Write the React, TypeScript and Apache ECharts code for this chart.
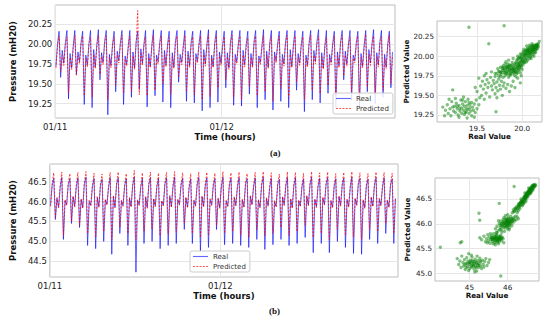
import React, { useEffect, useRef } from "react";
import * as echarts from "echarts";

// ---------- time axis ----------
const timeTicks = [0, 24];
const timeTickLabels = ["01/11", "01/12"];
const T0 = 0.1; // hours, first sample
const DT = 0.2268; // hours between samples

// ---------- panel (a) per-cycle readings (43 cycles) ----------
const aRealDip = [19.72,19.76,19.70,19.78,19.74,19.71,19.77,19.73,19.79,19.75,19.70,19.76,19.72,19.78,19.74,19.71,19.77,19.73,19.79,19.75,19.72,19.76,19.70,19.78,19.74,19.73,19.77,19.71,19.79,19.75,19.72,19.76,19.74,19.78,19.70,19.77,19.73,19.75,19.79,19.72,19.76,19.74,19.71];
const aRealRise = [20.00,20.02,19.98,20.03,20.01,19.99,20.04,20.00,20.02,19.98,20.03,20.01,19.99,20.02,20.00,20.04,19.98,20.03,20.01,20.00,20.02,19.99,20.03,20.01,20.00,20.04,19.98,20.02,20.01,20.03,19.99,20.00,20.02,20.04,19.98,20.01,20.03,20.00,20.02,19.99,20.01,20.03,20.00];
const aRealPeak = [20.16,20.17,20.17,20.16,20.17,20.18,20.17,20.16,20.17,20.17,20.16,20.17,20.18,20.17,20.16,20.17,20.17,20.16,20.17,20.18,20.17,20.16,20.17,20.17,20.16,20.17,20.18,20.17,20.16,20.17,20.17,20.16,20.17,20.18,20.17,20.16,20.17,20.17,20.16,20.17,20.18,20.17,20.16];
const aRealMin = [19.58,19.31,19.62,19.24,19.20,19.55,19.11,19.40,19.24,19.33,19.43,19.21,19.35,19.27,19.20,19.52,19.28,19.26,19.16,19.20,19.27,19.45,19.23,19.22,19.37,19.20,19.30,19.17,19.28,19.20,19.42,19.15,19.30,19.26,19.38,19.20,19.55,19.29,19.19,19.40,19.25,19.33,19.45];
const aRealReb = [19.92,19.88,19.90,19.86,19.93,19.89,19.87,19.91,19.85,19.90,19.94,19.88,19.86,19.92,19.89,19.87,19.91,19.88,19.93,19.86,19.90,19.89,19.87,19.92,19.88,19.85,19.91,19.90,19.87,19.93,19.88,19.86,19.92,19.89,19.87,19.90,19.91,19.86,19.88,19.93,19.89,19.87,19.90];

const aPredDip = [19.70,19.73,19.68,19.75,19.71,19.69,19.74,19.70,19.76,19.72,19.68,19.73,19.70,19.75,19.71,19.69,19.74,19.70,19.76,19.72,19.70,19.73,19.68,19.75,19.71,19.70,19.74,19.69,19.76,19.72,19.70,19.73,19.71,19.75,19.68,19.74,19.70,19.72,19.76,19.70,19.73,19.71,19.69];
const aPredRise = [19.97,19.99,19.95,20.00,19.98,19.96,20.00,19.97,19.99,19.95,19.99,19.98,19.96,19.99,19.97,20.00,19.95,19.99,19.98,19.97,19.99,19.96,20.00,19.98,19.97,20.00,19.95,19.99,19.98,20.00,19.96,19.97,19.99,20.00,19.95,19.98,20.00,19.97,19.99,19.96,19.98,20.00,19.97];
const aPredPeak = [20.10,20.09,20.11,20.10,20.08,20.11,20.10,20.09,20.11,20.10,20.42,20.09,20.11,20.10,20.08,20.10,20.11,20.09,20.10,20.12,20.10,20.09,20.11,20.10,20.08,20.10,20.11,20.09,20.10,20.11,20.10,20.09,20.11,20.10,20.08,20.10,20.11,20.09,20.10,20.12,20.10,20.09,20.11];
const aPredMin = [19.65,19.38,19.60,19.35,19.33,19.62,19.30,19.48,19.38,19.40,19.36,19.35,19.42,19.50,19.37,19.58,19.40,19.36,19.30,19.34,19.45,19.55,19.33,19.30,19.47,19.35,19.40,19.28,19.44,19.32,19.52,19.30,19.42,19.38,19.48,19.34,19.60,19.40,19.28,19.46,19.36,19.42,19.50];
const aPredReb = [19.86,19.83,19.85,19.82,19.87,19.84,19.83,19.86,19.81,19.85,19.88,19.83,19.82,19.86,19.84,19.82,19.86,19.83,19.87,19.82,19.85,19.84,19.82,19.86,19.83,19.81,19.86,19.85,19.82,19.87,19.83,19.82,19.86,19.84,19.82,19.85,19.86,19.82,19.83,19.87,19.84,19.82,19.85];

// ---------- panel (b) per-cycle readings (43 cycles) ----------
const bRealDip = [45.90,45.86,45.92,45.88,45.85,45.91,45.87,45.93,45.86,45.90,45.88,45.92,45.85,45.89,45.91,45.87,45.93,45.86,45.90,45.88,45.92,45.85,45.89,45.91,45.87,45.93,45.86,45.90,45.88,45.92,45.85,45.89,45.91,45.87,45.93,45.86,45.90,45.88,45.92,45.85,45.89,45.91,45.87];
const bRealRise = [46.40,46.36,46.42,46.38,46.44,46.37,46.41,46.35,46.43,46.39,46.40,46.36,46.42,46.38,46.44,46.37,46.41,46.35,46.43,46.39,46.40,46.36,46.42,46.38,46.44,46.37,46.41,46.35,46.43,46.39,46.40,46.36,46.42,46.38,46.44,46.37,46.41,46.35,46.43,46.39,46.40,46.36,46.42];
const bRealPeak = [46.58,46.60,46.57,46.59,46.61,46.58,46.56,46.60,46.59,46.57,46.61,46.58,46.60,46.57,46.59,46.61,46.58,46.56,46.60,46.59,46.57,46.61,46.58,46.60,46.57,46.59,46.61,46.58,46.56,46.60,46.59,46.57,46.61,46.58,46.60,46.57,46.59,46.61,46.58,46.56,46.60,46.59,46.57];
const bRealMin = [45.55,45.05,45.45,45.35,44.90,44.82,45.00,44.68,45.20,44.90,44.23,44.95,45.00,44.82,44.90,44.95,45.30,44.95,44.75,44.85,45.30,44.92,44.95,44.90,44.85,45.05,44.80,44.92,45.05,44.90,44.95,45.10,44.72,44.95,44.72,45.00,44.85,44.70,44.68,45.05,44.95,45.20,44.95];
const bRealReb = [46.08,46.02,46.12,46.05,46.00,46.10,46.04,46.14,46.01,46.08,46.03,46.11,46.06,46.00,46.13,46.04,46.09,46.02,46.12,46.05,46.07,46.01,46.10,46.04,46.14,46.03,46.08,46.00,46.11,46.06,46.02,46.13,46.05,46.09,46.01,46.12,46.04,46.07,46.03,46.10,46.06,46.02,46.08];

const bPredDip = [45.88,45.84,45.90,45.86,45.83,45.89,45.85,45.91,45.84,45.88,45.86,45.90,45.83,45.87,45.89,45.85,45.91,45.84,45.88,45.86,45.90,45.83,45.87,45.89,45.85,45.91,45.84,45.88,45.86,45.90,45.83,45.87,45.89,45.85,45.91,45.84,45.88,45.86,45.90,45.83,45.87,45.89,45.85];
const bPredRise = [46.45,46.41,46.47,46.43,46.49,46.42,46.46,46.40,46.48,46.44,46.45,46.41,46.47,46.43,46.49,46.42,46.46,46.40,46.48,46.44,46.45,46.41,46.47,46.43,46.49,46.42,46.46,46.40,46.48,46.44,46.45,46.41,46.47,46.43,46.49,46.42,46.46,46.40,46.48,46.44,46.45,46.41,46.47];
const bPredPeak = [46.72,46.74,46.70,46.73,46.75,46.71,46.69,46.73,46.74,46.70,46.78,46.72,46.74,46.71,46.73,46.75,46.72,46.70,46.74,46.73,46.71,46.75,46.72,46.74,46.70,46.73,46.75,46.72,46.69,46.74,46.73,46.71,46.75,46.72,46.74,46.70,46.73,46.75,46.72,46.70,46.74,46.73,46.71];
const bPredMin = [45.60,45.15,45.50,45.40,45.20,45.10,45.25,45.05,45.35,45.20,45.05,45.25,45.30,45.15,45.20,45.25,45.45,45.20,45.10,45.15,45.40,45.20,45.25,45.15,45.10,45.30,45.15,45.20,45.35,45.15,45.25,45.40,45.10,45.20,45.05,45.30,45.15,45.10,45.05,45.30,45.25,45.45,45.20];
const bPredReb = [46.10,46.05,46.14,46.07,46.03,46.12,46.06,46.15,46.04,46.10,46.05,46.13,46.08,46.03,46.15,46.06,46.11,46.04,46.14,46.07,46.09,46.03,46.12,46.06,46.15,46.05,46.10,46.03,46.13,46.08,46.04,46.15,46.07,46.11,46.03,46.14,46.06,46.09,46.05,46.12,46.08,46.04,46.10];

// ---------- scatter (a): [real, predicted] ----------
const aScatter = [
  [19.41,20.37],[19.80,20.39],[19.63,20.16],[19.71,19.29],[19.23,19.57],
  [19.12,19.35],[19.15,19.31],[19.17,19.38],[19.18,19.27],[19.20,19.33],[19.21,19.24],[19.22,19.42],[19.24,19.30],[19.25,19.36],[19.26,19.28],[19.27,19.40],[19.28,19.33],[19.29,19.25],[19.30,19.37],[19.31,19.30],[19.32,19.44],[19.33,19.34],[19.33,19.27],[19.34,19.39],[19.35,19.31],[19.36,19.36],[19.36,19.26],[19.37,19.42],[19.38,19.33],[19.38,19.29],[19.39,19.37],[19.40,19.45],[19.40,19.32],[19.41,19.27],[19.42,19.38],[19.42,19.34],[19.43,19.30],[19.44,19.41],[19.44,19.24],[19.45,19.35],[19.46,19.31],[19.47,19.39],[19.48,19.28],[19.49,19.44],[19.50,19.33],[19.52,19.38],[19.53,19.47],[19.30,19.22],[19.26,19.46],[19.19,19.45],[19.14,19.24],[19.39,19.21],[19.47,19.22],[19.35,19.48],[19.28,19.36],[19.23,19.35],[19.41,19.41],[19.34,19.44],[19.31,19.33],[19.37,19.28],
  [19.50,19.55],[19.52,19.72],[19.54,19.62],[19.55,19.50],[19.56,19.68],[19.57,19.58],[19.58,19.75],[19.59,19.64],[19.60,19.53],[19.61,19.70],[19.62,19.60],[19.63,19.66],[19.64,19.48],[19.65,19.73],[19.66,19.62],[19.67,19.57],[19.68,19.69],[19.69,19.65],[19.70,19.52],[19.70,19.74],[19.71,19.60],[19.72,19.67],[19.73,19.56],[19.74,19.71],[19.75,19.63],[19.76,19.58],[19.77,19.68],[19.78,19.50],[19.79,19.62],[19.80,19.66],[19.82,19.59],[19.84,19.64],[19.86,19.55],[19.88,19.62],[19.90,19.68],[19.92,19.60],[19.60,19.78],[19.66,19.80],[19.72,19.47],[19.58,19.45],[19.48,19.60],[19.95,19.72],[19.98,19.66],
  [19.72,19.78],[19.73,19.84],[19.74,19.75],[19.75,19.80],[19.76,19.86],[19.77,19.77],[19.78,19.82],[19.79,19.88],[19.80,19.79],[19.80,19.84],[19.81,19.75],[19.82,19.81],[19.82,19.87],[19.83,19.78],[19.84,19.84],[19.84,19.90],[19.85,19.80],[19.86,19.76],[19.86,19.85],[19.87,19.82],[19.88,19.88],[19.88,19.78],[19.89,19.84],[19.90,19.80],[19.90,19.86],[19.91,19.76],[19.92,19.83],[19.92,19.89],[19.93,19.80],[19.94,19.85],[19.94,19.78],[19.95,19.88],[19.96,19.82],[19.97,19.86],[19.98,19.79],[19.96,19.92],[19.93,19.74],[19.89,19.92],[19.85,19.73],[19.79,19.73],[19.76,19.79],[19.83,19.86],[19.87,19.79],[19.91,19.82],[19.78,19.85],[19.81,19.90],[19.74,19.81],[19.70,19.78],[19.99,19.75],[20.00,19.83],[19.85,19.95],[19.90,19.97],[19.82,19.93],
  [19.80,19.82],[19.82,19.84],[19.84,19.81],[19.85,19.87],[19.86,19.83],[19.87,19.88],[19.88,19.84],[19.89,19.81],[19.90,19.89],[19.91,19.85],[19.92,19.80],[19.93,19.87],[19.94,19.82],[19.95,19.85],[19.96,19.88],[19.97,19.83],[19.98,19.89],[19.99,19.86],[19.77,19.80],[19.79,19.86],[19.83,19.77],[19.87,19.76],[19.91,19.79],[19.95,19.79],[19.76,19.74],[19.81,19.79],[19.86,19.89],[19.93,19.91],[19.90,19.83],[19.84,19.87],
  [19.93,19.92],[19.95,19.96],[19.96,19.90],[19.97,19.99],[19.98,19.94],[19.99,20.02],[20.00,19.97],[20.00,19.91],[20.01,20.04],[20.02,19.99],[20.02,19.94],[20.03,20.06],[20.03,20.01],[20.04,19.96],[20.04,20.08],[20.05,20.03],[20.05,19.98],[20.06,20.05],[20.06,20.10],[20.07,20.00],[20.07,20.07],[20.08,20.03],[20.08,20.11],[20.09,20.06],[20.09,19.99],[20.10,20.09],[20.10,20.04],[20.11,20.12],[20.11,20.07],[20.12,20.02],[20.12,20.10],[20.13,20.13],[20.13,20.06],[20.14,20.09],[20.14,20.14],[20.15,20.11],[20.15,20.05],[20.16,20.12],[20.16,20.15],[20.17,20.10],[20.17,20.13],[20.19,20.19],[20.18,20.16],[19.99,19.88],[20.01,19.89],[20.03,19.92],[19.97,19.87],[20.06,19.95],[20.10,19.97],[20.13,20.00],[20.05,20.13],[20.02,20.09],[19.98,20.03],[19.95,20.00],[20.08,20.14],[20.11,20.16],[20.04,20.02],[20.07,20.04],[20.09,20.09],[20.12,20.08],
  [19.94,19.95],[19.96,19.97],[19.98,19.98],[19.99,19.93],[20.00,20.00],[20.01,19.95],[20.01,20.06],[20.02,20.02],[20.03,19.97],[20.04,20.05],[20.05,20.07],[20.05,19.93],[20.06,20.01],[20.07,20.09],[20.08,19.97],[20.08,20.06],[20.09,20.12],[20.10,20.01],[20.10,20.06],[20.11,20.10],[20.12,20.05],[20.12,20.13],[20.13,20.09],[20.14,20.11],[20.14,20.04],[20.15,20.08],[20.15,20.14],[20.16,20.09],[20.16,20.13],[20.17,20.15],[20.18,20.12],[20.00,19.94],[19.97,19.91],[20.03,20.03],[20.06,20.08],[20.09,20.03],[20.11,20.14],[20.13,20.11],[20.02,19.92],[19.99,19.97]
];

// ---------- scatter (b): [real, predicted] ----------
const bScatter = [
  [44.24,45.53],[44.76,45.62],[44.80,45.64],[45.25,46.21],[45.27,46.07],[45.78,46.41],[46.17,46.75],[45.82,44.95],
  [44.68,45.30],[44.72,45.18],[44.75,45.25],[44.78,45.12],[44.80,45.35],[44.83,45.22],[44.85,45.15],[44.87,45.28],[44.89,45.08],[44.91,45.20],[44.93,45.32],[44.95,45.14],[44.96,45.25],[44.98,45.40],[45.00,45.18],[45.01,45.10],[45.03,45.27],[45.04,45.21],[45.06,45.13],[45.07,45.33],[45.09,45.17],[45.10,45.24],[45.12,45.09],[45.13,45.19],[45.15,45.29],[45.16,45.14],[45.18,45.22],[45.19,45.05],[45.21,45.17],[45.22,45.26],[45.24,45.12],[45.25,45.20],[45.27,45.31],[45.29,45.15],[45.30,45.23],[45.32,45.10],[45.34,45.27],[45.36,45.18],[45.38,45.13],[45.40,45.24],[45.43,45.30],[45.46,45.16],[45.50,45.22],[45.53,45.28],[44.92,45.12],[45.05,45.37],[45.14,45.03],[44.98,45.06],[45.20,45.35],[45.11,45.15],[45.02,45.23],[44.88,45.18],
  [45.00,45.22],[45.05,45.15],[45.10,45.20],[45.15,45.24],[45.20,45.20],[45.25,45.16],[45.08,45.26],[45.18,45.12],[44.95,45.20],[45.28,45.26],
  [45.27,45.72],[45.32,45.68],[45.38,45.75],[45.42,45.64],[45.45,45.70],[45.48,45.78],[45.50,45.66],[45.52,45.73],[45.54,45.61],[45.56,45.69],[45.58,45.76],[45.60,45.65],[45.61,45.72],[45.63,45.80],[45.64,45.68],[45.66,45.62],[45.67,45.74],[45.69,45.70],[45.70,45.66],[45.71,45.78],[45.73,45.63],[45.74,45.71],[45.75,45.68],[45.77,45.75],[45.78,45.64],[45.79,45.72],[45.81,45.69],[45.82,45.77],[45.84,45.66],[45.86,45.73],[45.88,45.70],[45.90,45.62],[45.62,45.60],[45.68,45.58],[45.76,45.60],[45.55,45.80],[45.47,45.62],[45.72,45.82],[45.65,45.71],[45.80,45.74],[45.59,45.70],[45.70,45.73],
  [45.60,45.68],[45.64,45.74],[45.66,45.70],[45.68,45.66],[45.72,45.70],[45.74,45.66],[45.76,45.72],[45.78,45.68],[45.80,45.70],[45.70,45.76],[45.58,45.72],[45.84,45.71],
  [45.68,45.90],[45.72,45.95],[45.75,45.86],[45.78,46.00],[45.80,45.92],[45.82,46.05],[45.84,45.88],[45.86,45.97],[45.88,46.08],[45.89,45.93],[45.91,46.02],[45.92,45.85],[45.93,45.98],[45.95,46.10],[45.96,46.04],[45.97,45.94],[45.98,46.00],[45.99,46.07],[46.00,45.90],[46.01,46.02],[46.02,46.12],[46.03,45.97],[46.04,46.05],[46.05,45.92],[46.06,46.09],[46.07,46.01],[46.08,46.15],[46.10,46.04],[46.11,45.96],[46.12,46.10],[46.14,46.02],[46.16,46.12],[46.18,46.06],[46.20,46.15],[46.22,46.08],[46.25,46.14],[46.28,46.10],[45.85,45.83],[45.90,46.12],[45.94,46.16],[46.00,46.18],[45.76,46.06],[45.70,45.82],[46.04,45.88],[45.87,46.02],[45.93,45.92],[46.02,46.00],[45.97,46.06],[45.81,45.97],
  [45.85,45.95],[45.88,46.00],[45.90,46.05],[45.92,45.96],[45.95,46.00],[45.96,46.08],[45.98,45.96],[46.00,46.04],[46.01,46.10],[46.03,46.02],[46.05,46.07],[46.06,45.98],[46.08,46.04],[46.10,46.10],[46.12,46.06],[46.15,46.08],[45.80,45.88],[45.83,46.00],[45.94,46.02],[46.00,45.96],
  [46.12,46.22],[46.15,46.28],[46.18,46.25],[46.20,46.32],[46.22,46.27],[46.24,46.35],[46.26,46.30],[46.28,46.38],[46.30,46.33],[46.31,46.41],[46.33,46.36],[46.34,46.44],[46.36,46.40],[46.37,46.47],[46.39,46.43],[46.40,46.50],[46.41,46.46],[46.42,46.53],[46.44,46.49],[46.45,46.56],[46.46,46.52],[46.47,46.58],[46.48,46.54],[46.49,46.61],[46.50,46.57],[46.51,46.63],[46.52,46.59],[46.53,46.65],[46.54,46.61],[46.55,46.67],[46.56,46.63],[46.57,46.69],[46.58,46.65],[46.59,46.71],[46.60,46.67],[46.61,46.73],[46.62,46.69],[46.63,46.75],[46.64,46.71],[46.65,46.77],[46.66,46.73],[46.67,46.78],[46.68,46.75],[46.70,46.77],[46.72,46.79],[46.38,46.36],[46.43,46.42],[46.48,46.47],[46.53,46.55],[46.58,46.60],[46.62,46.64],[46.35,46.50],[46.45,46.62],[46.55,46.72],[46.28,46.26],[46.32,46.30],[46.50,46.52],[46.60,46.62],[46.66,46.68],[46.25,46.22],[46.40,46.38],[46.47,46.44],
  [46.16,46.24],[46.19,46.30],[46.23,46.31],[46.27,46.34],[46.29,46.40],[46.32,46.38],[46.35,46.42],[46.38,46.45],[46.40,46.44],[46.42,46.48],[46.44,46.52],[46.46,46.50],[46.48,46.56],[46.50,46.60],[46.52,46.56],[46.54,46.63],[46.56,46.60],[46.58,46.68],[46.60,46.64],[46.62,46.71],[46.64,46.68],[46.66,46.75],[46.68,46.72],[46.69,46.78],[46.71,46.75],[46.73,46.77],[46.36,46.45],[46.44,46.55],[46.52,46.62],[46.60,46.70],[46.30,46.36],[46.41,46.41],[46.57,46.66],[46.65,46.72],[46.47,46.53],[46.33,46.42]
];

// ---------- tick values ----------
const aTsYTicks = [19.25, 19.5, 19.75, 20.0, 20.25];
const bTsYTicks = [44.5, 45.0, 45.5, 46.0, 46.5];
const aScXTicks = [19.5, 20.0];
const aScYTicks = [19.25, 19.5, 19.75, 20.0, 20.25];
const bScXTicks = [45, 46];
const bScYTicks = [45.0, 45.5, 46.0, 46.5];

function buildSeries(dip: number[], rise: number[], peak: number[], min: number[], reb: number[]) {
  const out: number[][] = [];
  let idx = 0;
  for (let k = 0; k < peak.length; k++) {
    const vals = [dip[k], rise[k], peak[k], min[k], reb[k]];
    for (const v of vals) {
      out.push([T0 + idx * DT, v]);
      idx++;
    }
  }
  return out;
}

const FONT = "DejaVu Sans";
const GRID_LINE = "#e6e6e6";
const BORDER = "#bdbdbd";
const REAL_COLOR = "rgba(0,0,255,0.6)";
const PRED_COLOR = "rgba(255,0,0,0.7)";
const ICON_SOLID = "path://M0,0h16v1.2h-16z";
const ICON_DASH = "path://M0,0h2v1.2h-2zM3.5,0h2v1.2h-2zM7,0h2v1.2h-2zM10.5,0h2v1.2h-2zM14,0h2v1.2h-2z";

function tsX(gridIndex: number) {
  return {
    gridIndex, type: "value", min: 0, max: 49,
    axisLine: { show: false }, axisTick: { show: false, customValues: timeTicks },
    splitLine: { show: true, lineStyle: { color: GRID_LINE, width: 1 } },
    axisLabel: {
      customValues: timeTicks, margin: 4, color: "#222", fontSize: 8.5, fontFamily: FONT,
      formatter: (v: number) => timeTickLabels[timeTicks.indexOf(v)] ?? "",
    },
    name: "Time (hours)", nameLocation: "middle", nameGap: 14,
    nameTextStyle: { fontWeight: "bold", fontSize: 8.5, color: "#111", fontFamily: FONT },
  };
}
function valAxis(gridIndex: number, min: number, max: number, ticks: number[], digits: number, fs: number, extra: any) {
  return {
    gridIndex, type: "value", min, max,
    axisLine: { show: false }, axisTick: { show: false, customValues: ticks },
    splitLine: { show: true, lineStyle: { color: GRID_LINE, width: 1 } },
    axisLabel: { customValues: ticks, margin: 3, color: "#222", fontSize: fs, fontFamily: FONT, formatter: (v: number) => v.toFixed(digits) },
    ...extra,
  };
}

export default function App() {
  const ref = useRef<HTMLDivElement>(null);
  useEffect(() => {
    if (!ref.current) return;
    const chart = echarts.init(ref.current, null, { renderer: "svg" });
    const nameStyleTs = { fontWeight: "bold", fontSize: 8.5, color: "#111", fontFamily: FONT };
    const nameStyleSc = { fontWeight: "bold", fontSize: 7.2, color: "#111", fontFamily: FONT };
    const realLine = { color: REAL_COLOR, width: 1 };
    const predLine = { color: PRED_COLOR, width: 1, type: [2, 1.5] };
    const legendBase = {
      orient: "vertical", itemWidth: 15, itemHeight: 7, itemGap: 3,
      padding: [2, 4, 2, 3], borderColor: "#cccccc", borderWidth: 1, borderRadius: 2,
      backgroundColor: "rgba(255,255,255,0.85)",
      textStyle: { fontSize: 7, color: "#333", fontFamily: FONT },
      data: [
        { name: "Real", icon: ICON_SOLID, itemStyle: { color: REAL_COLOR } },
        { name: "Predicted", icon: ICON_DASH, itemStyle: { color: PRED_COLOR } },
      ],
    };
    chart.setOption({
      animation: false,
      backgroundColor: "#ffffff",
      grid: [
        { left: 45, top: 5, width: 350, height: 113, show: true, borderColor: BORDER, borderWidth: 1 },
        { left: 437, top: 21, width: 105, height: 101, show: true, borderColor: BORDER, borderWidth: 1 },
        { left: 42, top: 164, width: 356, height: 113, show: true, borderColor: BORDER, borderWidth: 1 },
        { left: 435, top: 178, width: 104, height: 103, show: true, borderColor: BORDER, borderWidth: 1 },
      ],
      xAxis: [
        tsX(0),
        valAxis(1, 19.056, 20.22, aScXTicks, 1, 7.2, { name: "Real Value", nameLocation: "middle", nameGap: 10, nameTextStyle: nameStyleSc }),
        tsX(2),
        valAxis(3, 44.1, 46.82, bScXTicks, 0, 7.2, { name: "Real Value", nameLocation: "middle", nameGap: 10, nameTextStyle: nameStyleSc }),
      ],
      yAxis: [
        valAxis(0, 19.07, 20.49, aTsYTicks, 2, 8.5, { name: "Pressure (mH20)", nameLocation: "middle", nameGap: 29, nameTextStyle: nameStyleTs }),
        valAxis(1, 19.16, 20.45, aScYTicks, 2, 7.2, { name: "Predicted Value", nameLocation: "middle", nameGap: 24, nameTextStyle: nameStyleSc }),
        valAxis(2, 44.11, 46.94, bTsYTicks, 1, 8.5, { name: "Pressure (mH20)", nameLocation: "middle", nameGap: 29, nameTextStyle: nameStyleTs }),
        valAxis(3, 44.85, 46.92, bScYTicks, 1, 7.2, { name: "Predicted Value", nameLocation: "middle", nameGap: 24, nameTextStyle: nameStyleSc }),
      ],
      legend: [
        { ...legendBase, left: 333, top: 93 },
        { ...legendBase, left: 190, top: 251 },
      ],
      series: [
        { name: "Real", type: "line", xAxisIndex: 0, yAxisIndex: 0, symbol: "none", lineStyle: realLine, itemStyle: { color: REAL_COLOR },
          data: buildSeries(aRealDip, aRealRise, aRealPeak, aRealMin, aRealReb) },
        { name: "Predicted", type: "line", xAxisIndex: 0, yAxisIndex: 0, symbol: "none", lineStyle: predLine, itemStyle: { color: PRED_COLOR },
          data: buildSeries(aPredDip, aPredRise, aPredPeak, aPredMin, aPredReb) },
        { name: "Real", type: "line", xAxisIndex: 2, yAxisIndex: 2, symbol: "none", lineStyle: realLine, itemStyle: { color: REAL_COLOR },
          data: buildSeries(bRealDip, bRealRise, bRealPeak, bRealMin, bRealReb) },
        { name: "Predicted", type: "line", xAxisIndex: 2, yAxisIndex: 2, symbol: "none", lineStyle: predLine, itemStyle: { color: PRED_COLOR },
          data: buildSeries(bPredDip, bPredRise, bPredPeak, bPredMin, bPredReb) },
        { name: "a-scatter", type: "scatter", xAxisIndex: 1, yAxisIndex: 1, symbolSize: 3.4, itemStyle: { color: "rgba(0,128,0,0.62)" }, data: aScatter },
        { name: "b-scatter", type: "scatter", xAxisIndex: 3, yAxisIndex: 3, symbolSize: 3.4, itemStyle: { color: "rgba(0,128,0,0.62)" }, data: bScatter },
      ],
      graphic: [
        { type: "text", left: 270, top: 148, style: { text: "(a)", font: "bold 9px 'Liberation Serif'", fill: "#111" } },
        { type: "text", left: 269, top: 306, style: { text: "(b)", font: "bold 9px 'Liberation Serif'", fill: "#111" } },
      ],
    });
    return () => chart.dispose();
  }, []);
  return <div ref={ref} style={{ position: "absolute", left: 0, top: 0, width: 550, height: 320 }} />;
}
